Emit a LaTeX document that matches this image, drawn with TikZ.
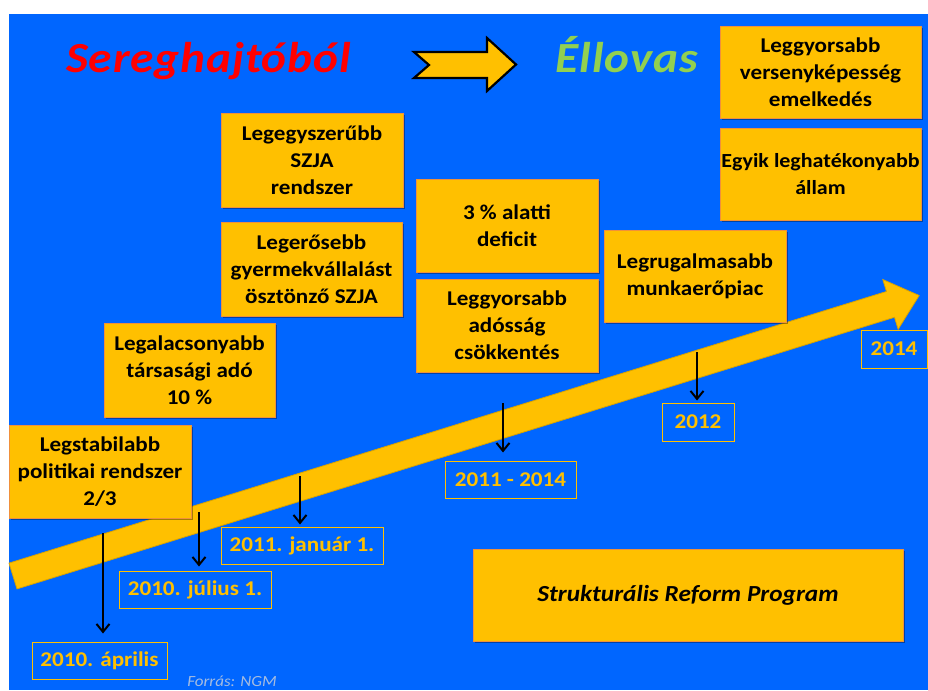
\documentclass[tikz,border=0pt]{standalone}
\usepackage{fontspec}
\setmainfont{Carlito}[FakeStretch=1.1]
\usetikzlibrary{arrows.meta,shadows}
\definecolor{bgblue}{HTML}{0066FF}
\definecolor{gold}{HTML}{FFC000}
\definecolor{boxedge}{HTML}{F0903A}
\definecolor{banddark}{HTML}{D9A300}
\definecolor{titlered}{HTML}{FF0000}
\definecolor{titlegreen}{HTML}{92D050}
\definecolor{srcgray}{HTML}{A6BCE0}
\begin{document}
\begin{tikzpicture}[x=1pt,y=-1pt,
  ybox/.style={fill=gold, draw=boxedge, line width=0.8pt, inner sep=0pt, align=center,
    font=\fontsize{21}{27}\selectfont\bfseries, text=black,
    drop shadow={shadow xshift=2pt, shadow yshift=-2pt, opacity=0.35, fill=black}},
  dbox/.style={draw=gold, line width=1pt, inner sep=0pt,
    font=\fontsize{21}{25}\selectfont\bfseries, text=gold},
  tl/.style={draw=black, line width=2pt, -{Straight Barb[length=8pt,width=13pt,line width=2pt]}},
  ttl/.style={font=\fontsize{43}{50}\selectfont\bfseries\itshape\addfontfeatures{LetterSpace=2}, anchor=base, inner sep=0pt}]
\useasboundingbox (0,0) rectangle (928,690);
\fill[white] (0,0) rectangle (928,690);
\fill[bgblue] (9,14) rectangle (928,690);

% big rising arrow
\begin{scope}[shift={(13,576)}, rotate=17.2]
\draw[fill=gold, draw=banddark, line width=0.8pt, line join=miter]
  (0,-13.5) -- (918.6,-13.5) -- (918.6,-26) -- (948.6,0) -- (918.6,26) -- (918.6,13.5) -- (0,13.5) -- cycle;
\end{scope}

% titles
\node[ttl, text=titlered] (t1) at (208.5,73) {Sereghajtóból};
\node[ttl, text=titlegreen] (t2) at (627,73) {Éllovas};
\draw[fill=gold, draw=black, line width=2.2pt, line join=miter]
  (414,52) -- (487,52) -- (487,38) -- (516,64.5) -- (487,91) -- (487,78) -- (414,78) -- (429,65) -- cycle;

% goal boxes
\node[ybox, minimum width=201pt, minimum height=92pt] (v1) at (820.5,72) {Leggyorsabb\\versenyképesség\\emelkedés};
\node[ybox, minimum width=201pt, minimum height=92pt, font=\fontsize{20}{27}\selectfont\bfseries] (v2) at (820.5,174) {Egyik leghatékonyabb\\állam};
\node[ybox, minimum width=182pt, minimum height=94pt] (szja1) at (312,160) {Legegyszerűbb\\SZJA\\rendszer};
\node[ybox, minimum width=181pt, minimum height=94pt] (szja2) at (311.5,269) {Legerősebb\\gyermekvállalást\\ösztönző SZJA};
\node[ybox, minimum width=182pt, minimum height=93pt] (def) at (507,225.5) {3 \% alatti\\deficit};
\node[ybox, minimum width=182pt, minimum height=93pt] (ados) at (507,325.5) {Leggyorsabb\\adósság\\csökkentés};
\node[ybox, minimum width=182pt, minimum height=92pt] (munka) at (695,276) {Legrugalmasabb\\munkaerőpiac};
\node[ybox, minimum width=171pt, minimum height=94pt] (tars) at (189.5,370) {Legalacsonyabb\\társasági adó\\10 \%};
\node[ybox, minimum width=182pt, minimum height=93pt] (stab) at (100,471.5) {Legstabilabb\\politikai rendszer\\2/3};
\node[ybox, minimum width=430pt, minimum height=92pt, font=\fontsize{23}{28}\selectfont\bfseries\itshape] (rp) at (688,595) {Strukturális Reform Program};

% date boxes
\node[dbox, minimum width=135pt, minimum height=37pt] (apr) at (99.5,660.5) {2010. április};
\node[dbox, minimum width=152pt, minimum height=37pt] (jul) at (195,589.5) {2010. július 1.};
\node[dbox, minimum width=162pt, minimum height=37pt] (jan) at (302,545.5) {2011. január 1.};
\node[dbox, minimum width=131pt, minimum height=37pt] (y1114) at (510.5,479.5) {2011 - 2014};
\node[dbox, minimum width=72pt, minimum height=38pt] (y2012) at (698,422) {2012};
\node[dbox, minimum width=66pt, minimum height=38pt] (y2014) at (894,349) {2014};

% pointers
\coordinate (s1) at (103,533);
\coordinate (s2) at (199,512);
\coordinate (s3) at (300,476);
\coordinate (s4) at (503,403);
\coordinate (s5) at (697,352);
\draw[tl, shorten >=8pt] (s1) -- (s1 |- apr.north);
\draw[tl, shorten >=4pt] (s2) -- (s2 |- jul.north);
\draw[tl, shorten >=2pt] (s3) -- (s3 |- jan.north);
\draw[tl, shorten >=8pt] (s4) -- (s4 |- y1114.north);
\draw[tl, shorten >=2pt] (s5) -- (s5 |- y2012.north);

\node[font=\fontsize{15.5}{18}\selectfont\itshape, text=srcgray, inner sep=0pt] (src) at (232,681) {Forrás: NGM};
\end{tikzpicture}
\end{document}
